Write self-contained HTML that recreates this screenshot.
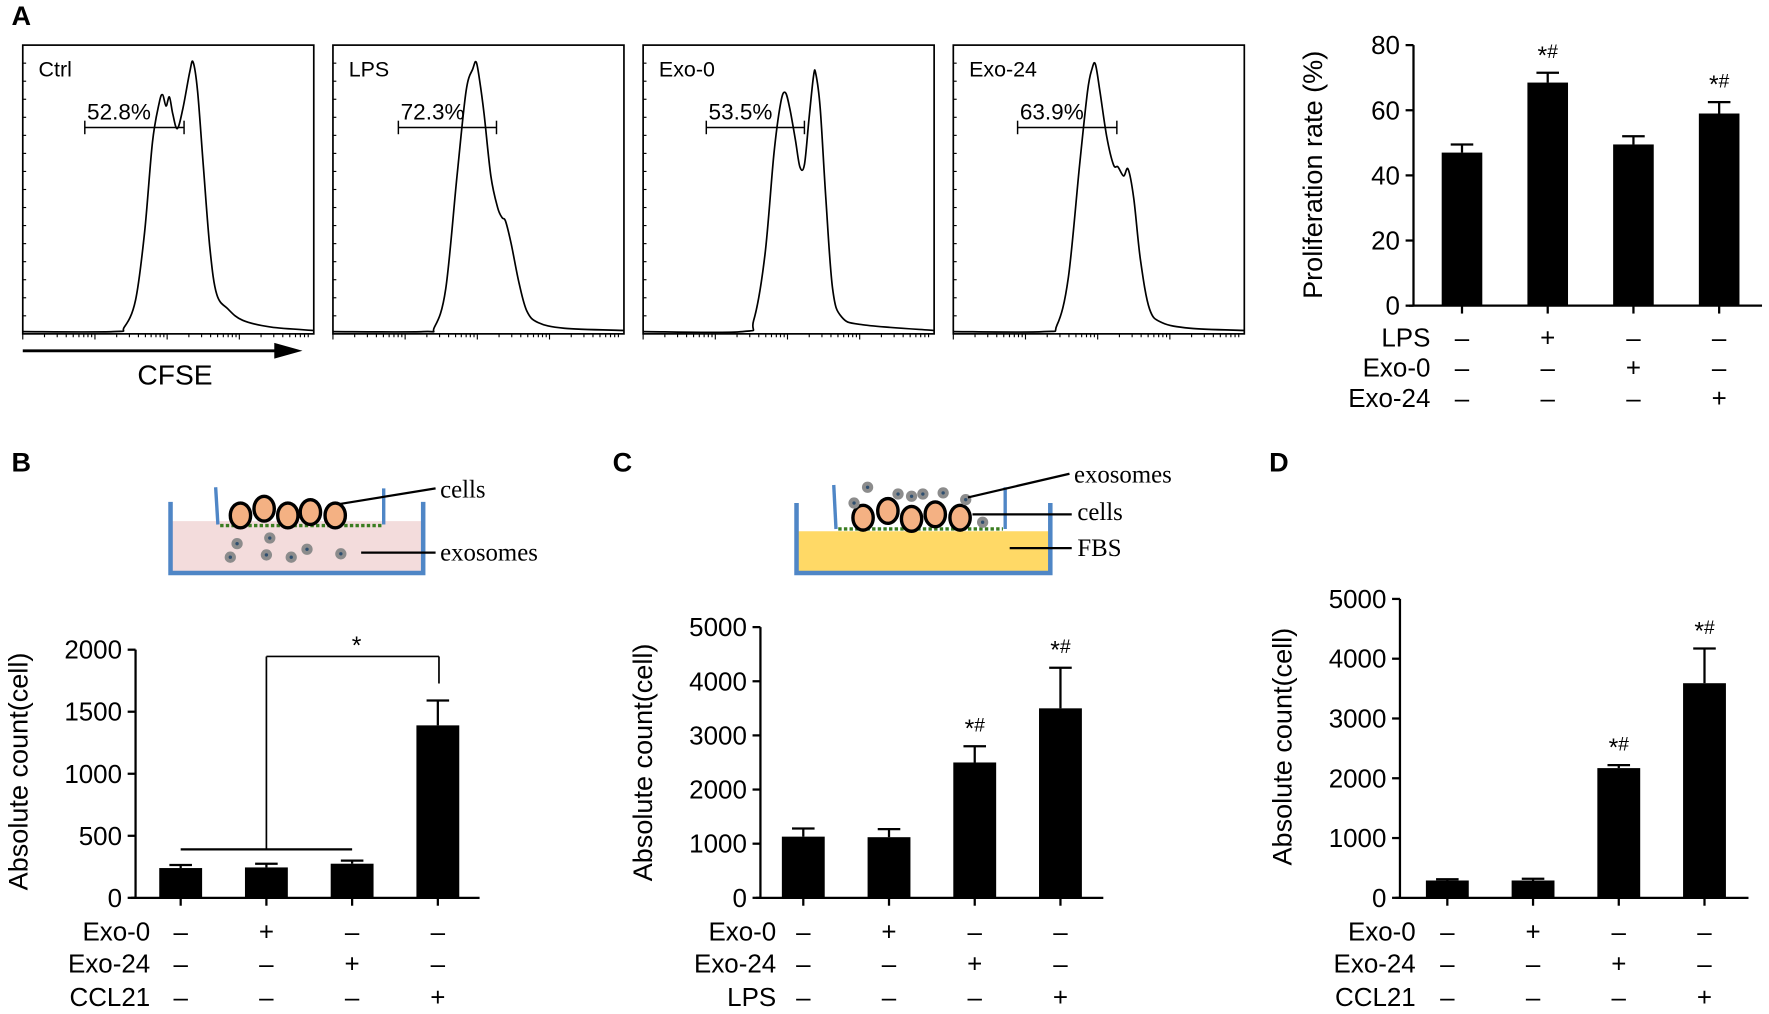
<!DOCTYPE html>
<html><head><meta charset="utf-8"><style>
html,body{margin:0;padding:0;background:#fff;}
svg{display:block;font-family:"Liberation Sans",Arial,sans-serif;}
.serif{font-family:"Liberation Serif",serif;}
</style></head><body>
<svg id="fig" width="1769" height="1014" viewBox="0 0 1568 899" xmlns="http://www.w3.org/2000/svg">
<g id="root"></g>
</svg>
<script>
// ---- Data ----
const histNames = ["Ctrl","LPS","Exo-0","Exo-24"];
const histPct = ["52.8%","72.3%","53.5%","63.9%"];
const histCtrl = [[0,2],[80,2],[90,6],[100,30],[108,90],[115,170],[121,205],[124,212],[127,202],[130,210],[133,195],[137,182],[142,200],[148,232],[151,241],[155,215],[160,150],[166,75],[172,35],[182,22],[195,12],[220,6],[258,3]];
const histLPS = [[0,2],[80,2],[90,6],[100,40],[110,140],[118,215],[124,235],[127,241],[130,225],[134,195],[140,140],[146,112],[150,103],[153,100],[158,80],[165,45],[172,20],[182,10],[205,5],[258,3]];
const histExo0 = [[0,2],[88,2],[98,12],[108,70],[116,160],[122,205],[126,214],[130,200],[135,172],[139,148],[143,150],[147,190],[151,228],[153,231],[157,200],[162,120],[168,40],[176,15],[195,8],[258,3]];
const histExo24 = [[0,2],[80,2],[92,8],[102,50],[112,150],[119,215],[123,235],[126,239],[130,215],[136,175],[142,150],[146,148],[151,140],[155,146],[160,120],[166,65],[174,22],[185,10],[210,5],[258,3]];
const histData = [histCtrl,histLPS,histExo0,histExo24];

const propCats = ["Ctrl","LPS","Exo-0","Exo-24"];
const propVals = [47,68.5,49.5,59];
const propErr = [2.5,3,2.5,3.5];
const propTicks = [0,20,40,60,80];
const propAnn = ["","*#","","*#"];
const propRows = ["LPS","Exo-0","Exo-24"];
const propSigns = [["–","+","–","–"],["–","–","+","–"],["–","–","–","+"]];

const bVals = [240,245,275,1390];
const bErr = [25,30,25,200];
const bTicks = [0,500,1000,1500,2000];
const bRows = ["Exo-0","Exo-24","CCL21"];
const bSigns = [["–","+","–","–"],["–","–","+","–"],["–","–","–","+"]];

const cVals = [1130,1120,2500,3500];
const cErr = [150,150,300,750];
const cTicks = [0,1000,2000,3000,4000,5000];
const cAnn = ["","","*#","*#"];
const cRows = ["Exo-0","Exo-24","LPS"];
const cSigns = [["–","+","–","–"],["–","–","+","–"],["–","–","–","+"]];

const dVals = [290,290,2170,3590];
const dErr = [20,30,50,580];
const dTicks = [0,1000,2000,3000,4000,5000];
const dAnn = ["","","*#","*#"];
const dRows = ["Exo-0","Exo-24","CCL21"];
const dSigns = [["–","+","–","–"],["–","–","+","–"],["–","–","–","+"]];

// ---- helpers ----
const NS="http://www.w3.org/2000/svg";
const root=document.getElementById('root');
function mk(tag,attrs,parent,txt){
  const e=document.createElementNS(NS,tag);
  for(const k in attrs) e.setAttribute(k,attrs[k]);
  if(txt!==undefined) e.textContent=txt;
  (parent||root).appendChild(e);
  return e;
}
function line(x1,y1,x2,y2,w,p,c){return mk('line',{x1,y1,x2,y2,stroke:c||'#000','stroke-width':w||2},p);}
function text(x,y,s,size,anchor,p,extra){
  const a=Object.assign({x,y,'font-size':size,'text-anchor':anchor||'start',fill:'#000'},extra||{});
  return mk('text',a,p,s);
}
function smoothPath(P){
  let d='M'+P[0][0]+','+P[0][1];
  for(let i=0;i<P.length-1;i++){
    const p0=P[i-1]||P[i],p1=P[i],p2=P[i+1],p3=P[i+2]||P[i+1];
    const c1x=p1[0]+(p2[0]-p0[0])/6,c1y=p1[1]+(p2[1]-p0[1])/6;
    const c2x=p2[0]-(p3[0]-p1[0])/6,c2y=p2[1]-(p3[1]-p1[1])/6;
    d+=` C${c1x},${c1y} ${c2x},${c2y} ${p2[0]},${p2[1]}`;
  }
  return d;
}

// panel letters
[["A",10,22],["B",10,418],["C",543,418],["D",1125,418]].forEach(l=>{
  const t=text(l[1],l[2],l[0],24,'start',root,{'font-weight':'bold'});
  
  
});

// ---- Histograms ----
const boxX=[20,295,570,845], boxY=40, boxW=258, boxH=256;
histNames.forEach((nm,i)=>{
  const g=mk('g',{});
  
  
  const x0=boxX[i];
  mk('rect',{x:x0,y:boxY,width:boxW,height:boxH,fill:'none',stroke:'#000','stroke-width':1.5},g);
  for(let k=1;k<16;k++) line(x0,boxY+k*16,x0+3,boxY+k*16,1,g);
  for(let dec=0;dec<4;dec++){
    for(let m=1;m<10;m++){
      const tx=x0+dec*64+Math.log10(m)*64;
      line(tx,boxY+boxH,tx,boxY+boxH+(m===1?5:3),1,g);
    }
  }
  const P=histData[i].map(p=>[x0+p[0],boxY+boxH-p[1]]);
  const pl=mk('path',{d:smoothPath(P),fill:'none',stroke:'#000','stroke-width':1.5},g);
  
  
  text(x0+14,boxY+28,nm,19,'start',g);
  const gx1=x0+[55,58,56,57][i], gx2=x0+[143,145,143,145][i];
  line(gx1,113,gx2,113,1.3,g);
  line(gx1,107,gx1,119,1.3,g);line(gx2,107,gx2,119,1.3,g);
  const pt=text(gx1+2,106,histPct[i],20,'start',g);
  
  
});
const arr=mk('g',{});


line(20,311,245,311,2.5,arr);
mk('polygon',{points:'243,304 268,311 243,318',fill:'#000'},arr);
const cf=text(155,341,"CFSE",25,'middle',root);



// ---- generic bar chart ----
function barChart(opt){
  const g=mk('g',{});
  
  
  const y=v=>opt.y0-(v/opt.max)*(opt.y0-opt.ytop);
  line(opt.ax,opt.ytop,opt.ax,opt.y0,2,g);
  line(opt.ax-4,opt.y0,opt.xend,opt.y0,2,g);
  opt.ticks.forEach(t=>{
    line(opt.ax-7,y(t),opt.ax,y(t),2,g);
    const tl=text(opt.ax-12,y(t)+8,String(t),23,'end',g);
    
    
  });
  const yt=text(0,0,opt.ytitle,24,'middle',g,{transform:`translate(${opt.tx},${opt.ty}) rotate(-90)`});
  
  
  opt.vals.forEach((v,i)=>{
    const cx=opt.x0+i*opt.step;
    line(cx,opt.y0,cx,opt.y0+7,2,g);
    const top=y(v+opt.err[i]);
    line(cx,y(v),cx,top,2,g);
    line(cx-10,top,cx+10,top,2,g);
    const r=mk('rect',{x:cx-opt.bw/2,y:y(v),width:opt.bw,height:opt.y0-y(v),fill:'#000'},g);
    
    
    if(opt.ann && opt.ann[i]){
      const a=text(cx,top-8,'',22,'middle',g);
      
      
      mk('tspan',{},a,'*');
      mk('tspan',{'font-size':17,dy:-5},a,'#');
    }
  });
  opt.rows.forEach((rn,ri)=>{
    const ry=opt.rowY[ri];
    const rl=text(opt.rowLabelX,ry+8,rn,23,'end',g);
    
    
    opt.signs[ri].forEach((s,i)=>{
      text(opt.x0+i*opt.step,ry+8,s,23,'middle',g);
    });
  });
  return {g,y};
}

barChart({name:'proliferation-bar-chart',ax:1253,y0:271,ytop:40,max:80,xend:1562,x0:1296,step:76,bw:36,
  vals:propVals,err:propErr,ticks:propTicks,ann:propAnn,ytitle:'Proliferation rate (%)',tx:1172,ty:155,
  rows:propRows,signs:propSigns,rowY:[299,326,353],rowLabelX:1268});

barChart({name:'panel-b-bar-chart',ax:120,y0:796,ytop:576,max:2000,xend:425,x0:160,step:76,bw:38,
  vals:bVals,err:bErr,ticks:bTicks,ann:null,ytitle:'Absolute count(cell)',tx:24,ty:684,
  rows:bRows,signs:bSigns,rowY:[826,854,884],rowLabelX:133});
const br=mk('g',{});


line(160,753,312,753,2,br);
line(236,753,236,582,1.5,br);
line(236,582,389,582,1.5,br);
line(389,582,389,606,1.5,br);
text(316,580,'*',22,'middle',br);

barChart({name:'panel-c-bar-chart',ax:674,y0:796,ytop:556,max:5000,xend:978,x0:712,step:76,bw:38,
  vals:cVals,err:cErr,ticks:cTicks,ann:cAnn,ytitle:'Absolute count(cell)',tx:578,ty:676,
  rows:cRows,signs:cSigns,rowY:[826,854,884],rowLabelX:688});

barChart({name:'panel-d-bar-chart',ax:1241,y0:796,ytop:531,max:5000,xend:1550,x0:1283,step:76,bw:38,
  vals:dVals,err:dErr,ticks:dTicks,ann:dAnn,ytitle:'Absolute count(cell)',tx:1145,ty:662,
  rows:dRows,signs:dSigns,rowY:[826,854,884],rowLabelX:1255});

// ---- Diagrams ----
function cell(g,x,y){mk('ellipse',{cx:x,cy:y,rx:9,ry:11,fill:'#f4b183',stroke:'#000','stroke-width':3},g);}
function exo(g,x,y){mk('circle',{cx:x,cy:y,r:5,fill:'#8c8c8c'},g);mk('circle',{cx:x,cy:y,r:1.5,fill:'#2f4f6f'},g);}
const db=mk('g',{});


mk('rect',{x:152,y:462,width:222,height:46,fill:'#f3dcdc'},db);
mk('path',{d:'M151,445 V508 H375 V445',fill:'none',stroke:'#4f86c6','stroke-width':4},db);
line(191,432,193,465,3,db,'#4f86c6');line(340,433,340,465,3,db,'#4f86c6');
mk('line',{x1:195,y1:466,x2:338,y2:466,stroke:'#3a7d20','stroke-width':3,'stroke-dasharray':'3,2'},db);
[[213,457],[234,451],[255,457],[275,454],[297,457]].forEach(p=>cell(db,p[0],p[1]));
[[210,482],[239,477],[236,492],[272,487],[204,494],[258,494],[302,491]].forEach(p=>exo(db,p[0],p[1]));
line(300,447,386,433,2,db);
text(390,441,'cells',22,'start',db,{class:'serif'});
line(320,490,386,490,2,db);
text(390,497,'exosomes',22,'start',db,{class:'serif'});
const dc=mk('g',{});


mk('rect',{x:707,y:471,width:224,height:36,fill:'#ffd966'},dc);
mk('path',{d:'M706,446 V508 H931 V446',fill:'none',stroke:'#4f86c6','stroke-width':4},dc);
line(739,430,741,469,3,dc,'#4f86c6');line(891,432,891,469,3,dc,'#4f86c6');
mk('line',{x1:743,y1:469,x2:889,y2:469,stroke:'#3a7d20','stroke-width':3,'stroke-dasharray':'3,2'},dc);
[[765,459],[787,453],[808,460],[829,456],[851,459]].forEach(p=>cell(dc,p[0],p[1]));
[[769,432],[757,446],[796,438],[808,440],[818,438],[836,437],[856,443],[871,463]].forEach(p=>exo(dc,p[0],p[1]));
line(858,441,948,420,2,dc);
text(952,428,'exosomes',22,'start',dc,{class:'serif'});
line(862,456,950,456,2,dc);
text(955,461,'cells',22,'start',dc,{class:'serif'});
line(895,486,950,486,2,dc);
text(955,493,'FBS',22,'start',dc,{class:'serif'});
</script>
</body></html>
